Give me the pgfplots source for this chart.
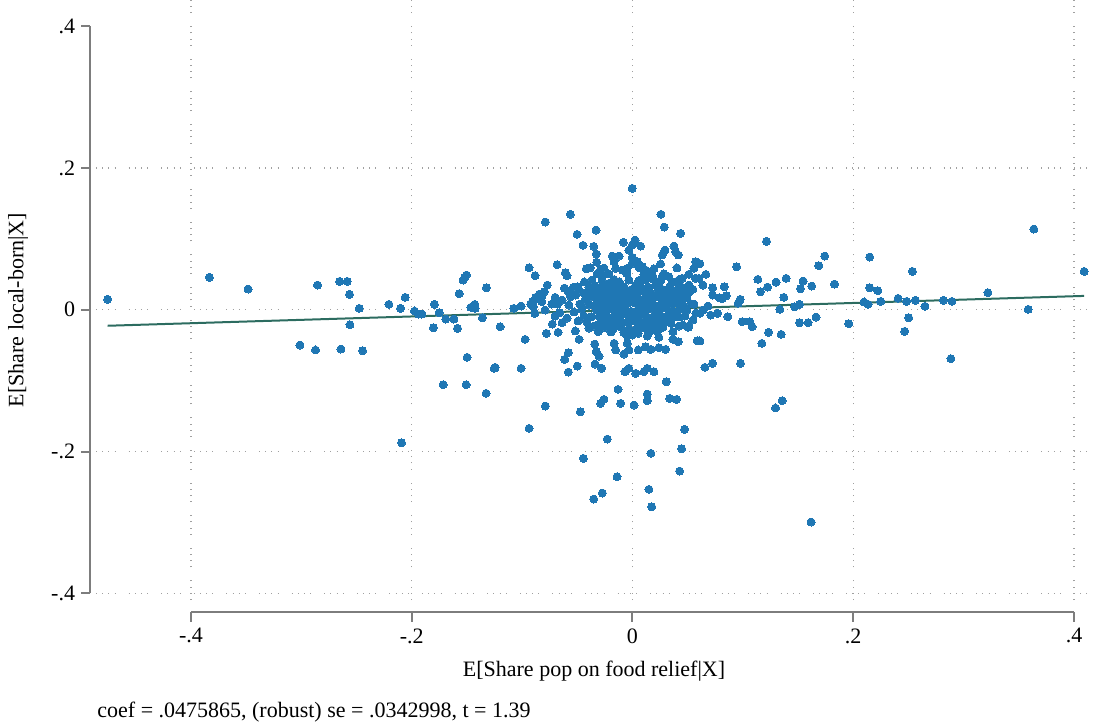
\documentclass[border=0pt]{standalone}
\usepackage{pgfplots}
\usepackage{pgfplotstable}
\pgfplotsset{compat=1.18}
\usepackage{fontspec}
\setmainfont{Liberation Serif}

\definecolor{dotblue}{RGB}{31,119,180}
\definecolor{fitteal}{RGB}{44,108,96}
\definecolor{axisgray}{RGB}{125,125,125}
\definecolor{gridgray}{RGB}{160,160,160}

% residuals of the added-variable regression
\pgfplotstableread{
x y
-0.4754 0.0147
-0.3833 0.0457
-0.3482 0.0292
-0.2853 0.0348
-0.2653 0.0400
-0.2584 0.0400
-0.2563 0.0217
-0.2475 0.0020
-0.2206 0.0076
-0.2101 0.0020
-0.2059 0.0175
-0.1975 -0.0018
-0.1941 -0.0061
-0.1908 -0.0061
-0.1794 0.0076
-0.1751 -0.0042
-0.1691 -0.0131
-0.1618 -0.0131
-0.1803 -0.0254
-0.1585 -0.0263
-0.1570 0.0226
-0.1534 0.0419
-0.1504 0.0489
-0.1519 0.0457
-0.1464 0.0034
-0.1428 0.0076
-0.1425 0.0020
-0.1359 -0.0113
-0.1323 0.0310
-0.2559 -0.0212
-0.3012 -0.0498
-0.2871 -0.0568
-0.2641 -0.0554
-0.2445 -0.0578
-0.1498 -0.0671
-0.1715 -0.1058
-0.1507 -0.1058
-0.1326 -0.1179
-0.2092 -0.1876
0.1618 -0.2994
0.1468 0.0042
0.1513 0.0076
0.1513 -0.0183
0.1591 -0.0183
0.1663 -0.0103
0.1522 0.0296
0.1546 0.0405
0.1624 0.0334
0.1688 0.0621
0.1742 0.0757
0.1830 0.0362
0.1959 -0.0197
0.2098 0.0109
0.2134 0.0076
0.2149 0.0743
0.2149 0.0310
0.2222 0.0268
0.2249 0.0118
0.2406 0.0161
0.2484 0.0118
0.2502 -0.0113
0.2466 -0.0305
0.2536 0.0541
0.2563 0.0133
0.2650 0.0048
0.2816 0.0133
0.2894 0.0118
0.2885 -0.0691
0.3220 0.0240
0.3585 0.0006
0.3636 0.1138
0.4092 0.0541
0.1214 0.0965
0.0611 0.0649
0.0665 0.0499
0.0602 0.0443
0.0638 0.0348
0.0726 0.0310
0.0726 0.0207
0.0786 0.0169
0.0813 0.0155
0.0831 0.0324
0.0849 0.0197
0.0943 0.0606
0.0976 0.0147
0.0957 0.0090
0.1136 0.0429
0.1160 0.0254
0.1224 0.0320
0.1301 0.0390
0.1392 0.0443
0.1371 0.0175
0.1335 0.0006
0.0683 0.0052
0.0638 -0.0004
0.0611 -0.0051
0.0708 -0.0075
0.0771 -0.0051
0.0864 -0.0099
0.0994 -0.0169
0.1063 -0.0169
0.1084 -0.0240
0.1233 -0.0319
0.1347 -0.0347
0.1172 -0.0474
0.0611 -0.0441
0.0656 -0.0812
0.0726 -0.0756
0.0979 -0.0756
0.1356 -0.1283
0.1296 -0.1386
-0.0937 -0.1673
-0.0228 -0.1824
-0.0445 -0.2096
-0.0140 -0.2355
-0.0273 -0.2585
-0.0351 -0.2670
0.0472 -0.1687
0.0445 -0.1960
0.0167 -0.2025
0.0427 -0.2275
0.0149 -0.2533
0.0174 -0.2779
-0.1199 -0.0240
-0.1075 0.0020
-0.1009 0.0052
-0.0921 0.0080
-0.0898 0.0042
-0.0907 0.0113
-0.0822 0.0113
-0.0885 -0.0051
-0.0731 0.0080
-0.0677 0.0080
-0.0659 -0.0042
-0.0726 -0.0202
-0.0638 -0.0183
-0.0780 -0.0333
-0.0674 -0.0319
-0.0973 -0.0418
-0.0518 -0.0300
-0.0484 -0.0418
-0.0581 -0.0606
-0.0614 -0.0700
-0.0500 -0.0794
-0.0581 -0.0879
-0.0342 -0.0484
-0.0328 -0.0592
-0.0339 -0.0766
-0.1244 -0.0812
-0.1253 -0.0826
-0.1009 -0.0826
-0.0789 -0.1358
-0.0472 -0.1439
-0.0394 0.0066
-0.0333 0.0066
-0.0369 -0.0099
-0.0348 -0.0230
-0.0310 -0.0310
-0.0460 0.0006
-0.0478 0.0080
-0.0563 0.1346
-0.0789 0.1237
-0.0502 0.1063
-0.0330 0.1124
-0.0448 0.0908
-0.0351 0.0894
-0.0328 0.0786
-0.0324 0.0669
-0.0418 0.0578
-0.0382 0.0592
-0.0683 0.0635
-0.0937 0.0592
-0.0882 0.0480
-0.0608 0.0522
-0.0593 0.0480
-0.0436 0.0391
-0.0771 0.0348
-0.0798 0.0254
-0.0843 0.0221
-0.0701 0.0175
-0.0617 0.0306
-0.0581 0.0254
-0.0536 0.0316
-0.0496 0.0324
-0.0484 0.0278
-0.0514 0.0207
-0.0559 0.0183
-0.0439 0.0231
-0.0378 0.0278
-0.0333 0.0240
-0.0876 0.0175
-0.0822 0.0183
-0.0002 0.1712
0.0258 0.1346
0.0288 0.1166
0.0436 0.1077
-0.0083 0.0951
0.0023 0.0983
-0.0002 0.0913
-0.0032 0.0842
0.0074 0.0898
0.0376 0.0898
0.0294 0.0842
0.0270 0.0772
0.0391 0.0818
0.0415 0.0772
0.0255 0.0645
0.0572 0.0677
0.0557 0.0584
-0.0183 0.0757
-0.0122 0.0757
-0.0002 0.0739
-0.0002 0.0654
-0.0167 0.0677
-0.0288 0.0570
-0.0273 0.0489
-0.0152 0.0584
-0.0092 0.0560
-0.0047 0.0584
0.0043 0.0677
0.0089 0.0606
0.0119 0.0560
0.0179 0.0489
0.0270 0.0465
0.0330 0.0465
0.0360 0.0395
0.0451 0.0443
0.0572 0.0443
0.0511 0.0348
0.0421 0.0348
-0.0213 0.0372
-0.0122 0.0395
-0.0032 0.0419
0.0029 0.0348
0.0119 0.0419
0.0210 0.0348
0.0300 0.0278
-0.0243 0.0278
-0.0152 0.0254
-0.0062 0.0231
0.0029 0.0231
0.0149 0.0254
0.0391 0.0207
0.0481 0.0231
0.0391 -0.0099
0.0505 -0.0248
0.0421 -0.0230
0.0367 -0.0310
0.0415 -0.0451
0.0367 -0.0418
0.0587 -0.0437
0.0270 -0.0230
0.0225 -0.0310
0.0174 -0.0230
0.0240 -0.0390
0.0134 -0.0371
0.0052 -0.0333
-0.0002 -0.0357
-0.0047 -0.0371
-0.0077 -0.0324
-0.0197 -0.0262
-0.0167 -0.0474
-0.0152 -0.0568
-0.0047 -0.0474
-0.0032 -0.0568
-0.0077 -0.0625
0.0052 -0.0568
0.0119 -0.0522
0.0165 -0.0559
0.0240 -0.0536
0.0300 -0.0559
-0.0303 -0.0653
-0.0279 -0.0826
-0.0068 -0.0874
-0.0032 -0.0826
0.0029 -0.0897
0.0104 -0.0874
0.0134 -0.0826
0.0195 -0.0874
0.0306 -0.1016
-0.0131 -0.1123
0.0134 -0.1189
0.0134 -0.1283
0.0337 -0.1250
0.0400 -0.1264
-0.0258 -0.1264
-0.0288 -0.1320
-0.0107 -0.1320
0.0014 -0.1344
-0.0339 0.0341
-0.0276 0.0318
-0.0158 0.0345
-0.0077 0.0322
0.0068 0.0339
0.0149 0.0316
0.0240 0.0350
0.0339 0.0328
0.0457 0.0312
-0.0303 0.0244
-0.0231 0.0262
-0.0176 0.0238
-0.0113 0.0255
-0.0041 0.0270
0.0032 0.0246
0.0095 0.0259
0.0167 0.0232
0.0231 0.0265
0.0303 0.0241
0.0376 0.0256
0.0448 0.0268
0.0511 0.0238
-0.0330 0.0158
-0.0267 0.0172
-0.0204 0.0150
-0.0140 0.0177
-0.0077 0.0161
-0.0014 0.0183
0.0050 0.0154
0.0113 0.0170
0.0176 0.0149
0.0240 0.0175
0.0303 0.0160
0.0367 0.0181
0.0430 0.0152
0.0493 0.0169
-0.0303 0.0087
-0.0240 0.0071
-0.0176 0.0095
-0.0113 0.0066
-0.0050 0.0084
0.0014 0.0102
0.0077 0.0073
0.0140 0.0090
0.0204 0.0062
0.0267 0.0088
0.0330 0.0074
0.0394 0.0097
0.0457 0.0069
0.0529 0.0085
-0.0330 0.0005
-0.0267 -0.0018
-0.0204 0.0012
-0.0140 -0.0009
-0.0077 0.0016
-0.0014 -0.0021
0.0050 0.0003
0.0113 -0.0014
0.0176 0.0010
0.0240 -0.0006
0.0303 0.0019
0.0367 -0.0017
0.0430 0.0008
0.0493 -0.0011
-0.0303 -0.0097
-0.0240 -0.0078
-0.0176 -0.0102
-0.0113 -0.0083
-0.0050 -0.0070
0.0014 -0.0095
0.0077 -0.0081
0.0140 -0.0106
0.0204 -0.0074
0.0267 -0.0092
0.0330 -0.0079
0.0421 -0.0101
-0.0276 -0.0165
-0.0213 -0.0188
-0.0149 -0.0162
-0.0086 -0.0181
-0.0023 -0.0158
0.0041 -0.0177
0.0104 -0.0190
0.0167 -0.0160
0.0231 -0.0184
0.0294 -0.0167
0.0348 -0.0189
-0.0249 -0.0250
-0.0176 -0.0271
-0.0104 -0.0246
-0.0032 -0.0266
0.0032 -0.0279
0.0104 -0.0255
0.0195 -0.0268
0.0276 -0.0249
-0.0638 0.0137
-0.0575 0.0066
-0.0529 -0.0032
-0.0593 -0.0117
-0.0430 0.0137
-0.0439 -0.0089
-0.0412 -0.0173
-0.0493 -0.0159
-0.0376 0.0179
-0.0394 -0.0258
-0.0792 -0.0004
-0.0701 -0.0089
0.0557 0.0080
0.0575 -0.0047
0.0548 -0.0145
0.0475 -0.0089
0.0511 -0.0229
-0.0367 0.0419
-0.0394 0.0320
-0.0258 0.0588
0.0059 0.0595
0.0195 0.0578
0.0403 0.0590
-0.0321 0.0504
-0.0213 0.0504
-0.0050 0.0510
0.0104 0.0498
0.0285 0.0507
0.0511 0.0500
-0.0276 0.0419
-0.0167 0.0425
0.0059 0.0414
0.0195 0.0422
0.0258 0.0416
0.0421 0.0420
-0.0367 0.0292
-0.0204 0.0298
-0.0005 0.0288
0.0131 0.0295
0.0267 0.0290
0.0412 0.0296
0.0548 0.0287
-0.0321 -0.0215
-0.0140 -0.0220
0.0068 -0.0212
0.0240 -0.0218
0.0457 -0.0214
-0.0195 -0.0314
-0.0050 -0.0310
0.0149 -0.0318
}\avdata

\tikzset{
  gridline/.style={gridgray, line width=0.6pt,
    dash pattern=on 0.5pt off 2.6pt on 0.5pt off 2.6pt on 0.5pt off 2.6pt on 0.5pt off 6.5pt},
  axisline/.style={axisgray, line width=1pt},
  ticklab/.style={inner sep=0pt, font=\fontsize{11}{13}\selectfont},
}

\begin{document}
\begin{tikzpicture}[x=1pt,y=1pt]
\useasboundingbox (0,0) rectangle (546.5,362.5);
\begin{axis}[
  at={(47.5pt,62.5pt)}, anchor=south west,
  scale only axis, width=498.5pt, height=300pt,
  xmin=-0.4869, xmax=0.4163, ymin=-0.4094, ymax=0.4368,
  axis line style={draw=none}, xtick=\empty, ytick=\empty,
  clip=false,
]
% dotted grid
\pgfplotsinvokeforeach{0.2,0,-0.2,-0.4}{
  \draw[gridline] (axis cs:-0.4860,#1) -- (axis cs:0.4163,#1);
}
\pgfplotsinvokeforeach{-0.4,-0.2,0,0.2,0.4}{
  \draw[gridline] (axis cs:#1,-0.4094) -- (axis cs:#1,0.4368);
}
% y axis
\draw[axisline] (axis cs:-0.4910,-0.4) -- (axis cs:-0.4910,0.4);
\pgfplotsinvokeforeach{-0.4,-0.2,0,0.2,0.4}{
  \draw[axisline] (axis cs:-0.4910,#1) -- ([xshift=-4.5pt]axis cs:-0.4910,#1);
}
\node[ticklab, anchor=east] at ([xshift=-7.5pt]axis cs:-0.4910,0.4) {.4};
\node[ticklab, anchor=east] at ([xshift=-7.5pt]axis cs:-0.4910,0.2) {.2};
\node[ticklab, anchor=east] at ([xshift=-7.5pt]axis cs:-0.4910,0) {0};
\node[ticklab, anchor=east] at ([xshift=-7.5pt]axis cs:-0.4910,-0.2) {-.2};
\node[ticklab, anchor=east] at ([xshift=-7.5pt]axis cs:-0.4910,-0.4) {-.4};
% x axis
\draw[axisline] (axis cs:-0.4,-0.4264) -- (axis cs:0.4,-0.4264);
\pgfplotsinvokeforeach{-0.4,-0.2,0,0.2,0.4}{
  \draw[axisline] (axis cs:#1,-0.4264) -- ([yshift=-5pt]axis cs:#1,-0.4264);
}
\node[ticklab, anchor=north] at ([yshift=-8pt]axis cs:-0.4,-0.4264) {-.4};
\node[ticklab, anchor=north] at ([yshift=-8pt]axis cs:-0.2,-0.4264) {-.2};
\node[ticklab, anchor=north] at ([yshift=-8pt]axis cs:0,-0.4264) {0};
\node[ticklab, anchor=north] at ([yshift=-8pt]axis cs:0.2,-0.4264) {.2};
\node[ticklab, anchor=north] at ([yshift=-8pt]axis cs:0.4,-0.4264) {.4};

\addplot[only marks, mark=*, mark size=2pt,
  mark options={fill=dotblue, draw=dotblue, line width=0pt}]
  table {\avdata};
% fitted line, slope = coef, through the origin
\addplot[fitteal, line width=1pt] coordinates {(-0.4754,-0.02262) (0.4092,0.01947)};
\end{axis}
\node[ticklab, anchor=center] at (297,27) {E[Share pop on food relief|X]};
\node[ticklab, anchor=center, rotate=90] at (9,207.5) {E[Share local-born|X]};
\node[ticklab, anchor=west] at (48.5,6.5) {coef = .0475865, (robust) se = .0342998, t = 1.39};
\end{tikzpicture}
\end{document}
